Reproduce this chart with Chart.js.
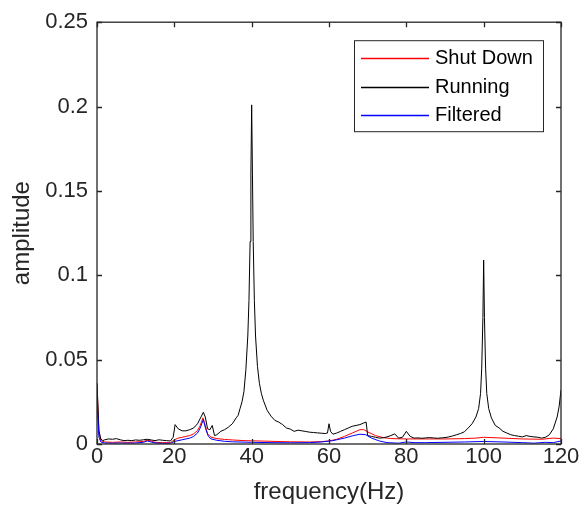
<!DOCTYPE html>
<html>
<head>
<meta charset="utf-8">
<script src="https://cdn.jsdelivr.net/npm/chart.js@4"></script>
<style>
  html, body { margin: 0; padding: 0; background: #fff; }
  #wrap { width: 580px; height: 515px; }
</style>
</head>
<body>
<div id="wrap"><canvas id="spectrum" width="580" height="515"></canvas></div>
<script>
// ---------- DATA
var xTicks = [0, 20, 40, 60, 80, 100, 120];
var yTicks = [0, 0.05, 0.1, 0.15, 0.2, 0.25];
var seriesNames = ['Shut Down', 'Running', 'Filtered'];
var seriesColors = ['#ff0000', '#000000', '#0000ff'];

var runningFreq = [0, 0.5, 1, 1.5, 2, 3, 4, 5, 6, 7, 8, 9, 10, 11, 12, 13, 14, 15, 16, 17, 18, 19,
  19.7, 20.2, 21, 22, 23, 24, 25, 26, 27, 27.5, 28, 28.6, 29.2, 29.8, 30.4, 31, 32, 33, 34, 35, 36, 36.5,
  37, 37.5, 38, 38.5, 39, 39.3, 39.6, 39.8, 40, 40.2, 40.4, 40.7, 41, 41.5, 42, 42.5, 43, 44, 45, 46, 47,
  48, 49, 50, 51, 52, 53, 54, 55, 56, 57, 58, 59, 59.6, 60, 60.4, 61, 62, 63, 64, 65, 66, 67, 68, 69,
  69.6, 70, 71, 72, 73, 74, 75, 76, 77, 78, 79, 80, 81, 82, 83, 84, 85, 86, 87, 88, 89, 90, 91, 92, 93,
  94, 95, 96, 97, 98, 98.7, 99.2, 99.5, 99.8, 100, 100.2, 100.5, 100.8, 101.3, 102, 103, 104, 105, 106,
  107, 108, 109, 110, 111, 112, 113, 114, 115, 116, 117, 118, 119, 119.5, 120];
var runningAmp = [0.036, 0.008, 0.003, 0.002, 0.0025, 0.003, 0.0028, 0.0032, 0.0025, 0.002, 0.0022, 0.002,
  0.0024, 0.0022, 0.0025, 0.0028, 0.0024, 0.002, 0.0025, 0.0022, 0.002, 0.0018,
  0.004, 0.0115, 0.009, 0.0078, 0.0078, 0.0085, 0.0095, 0.012, 0.0165, 0.0188, 0.016, 0.009, 0.0085, 0.011,
  0.005, 0.0055, 0.0075, 0.0085, 0.01, 0.012, 0.0155, 0.017,
  0.021, 0.025, 0.031, 0.044, 0.064, 0.085, 0.12, 0.16, 0.201, 0.16, 0.12, 0.085, 0.064, 0.046, 0.036, 0.03,
  0.026, 0.02, 0.0165, 0.014, 0.013,
  0.0115, 0.0095, 0.0088, 0.0075, 0.0082, 0.0078, 0.0074, 0.007, 0.0068, 0.0066, 0.0064, 0.0062, 0.0065,
  0.012, 0.0075, 0.0058, 0.0065, 0.0075, 0.0085, 0.0095, 0.0105, 0.011, 0.0115, 0.0125,
  0.013, 0.005, 0.0045, 0.004, 0.0035, 0.0037, 0.0042, 0.005, 0.006, 0.0035, 0.004, 0.0075, 0.0045, 0.0035,
  0.0036, 0.0034, 0.0036, 0.0038, 0.0036, 0.0034, 0.0036, 0.0038, 0.0042, 0.0048, 0.0055,
  0.0062, 0.0072, 0.0095, 0.012, 0.016, 0.021, 0.03, 0.045, 0.075, 0.109, 0.075, 0.045, 0.03, 0.021, 0.0155,
  0.011, 0.0095, 0.0075, 0.0065,
  0.0055, 0.005, 0.0046, 0.0042, 0.005, 0.0045, 0.0042, 0.004, 0.0035, 0.004, 0.0055, 0.009, 0.016, 0.022, 0.032];

var shutFreq = [0, 0.5, 1, 2, 4, 6, 8, 10, 12, 13, 14, 15, 17, 19, 20, 21, 22, 23, 24, 25, 26, 26.7, 27.4,
  28, 28.6, 29.5, 31, 33, 35, 38, 40, 45, 50, 55, 58, 60, 62, 64, 66, 68, 69, 70, 72, 74, 76, 80, 85, 90,
  95, 98, 100, 105, 110, 115, 118, 120];
var shutAmp = [0.036, 0.006, 0.002, 0.0012, 0.001, 0.0012, 0.001, 0.0012, 0.0015, 0.0022, 0.0018, 0.001,
  0.0008, 0.0008, 0.0025, 0.0035, 0.004, 0.0045, 0.005, 0.006, 0.008, 0.011, 0.0155,
  0.011, 0.006, 0.004, 0.0032, 0.0027, 0.0024, 0.002, 0.0019, 0.0016, 0.0013, 0.0012, 0.0014, 0.0018, 0.0028,
  0.0045, 0.0065, 0.0085, 0.0085, 0.0072, 0.005, 0.0038, 0.0032, 0.003, 0.003, 0.003,
  0.0032, 0.0035, 0.004, 0.0035, 0.003, 0.0028, 0.0035, 0.0032];

var filtFreq = [0, 0.5, 1, 2, 4, 6, 8, 10, 12, 13, 14, 15, 17, 19, 20, 22, 24, 25, 26, 26.7, 27.5, 28.1,
  28.8, 29.5, 31, 33, 35, 40, 45, 50, 55, 58, 61, 64, 66, 68, 69.5, 71, 73, 75, 78, 80, 82, 85, 90, 95,
  100, 105, 110, 113, 116, 118, 120];
var filtAmp = [0.026, 0.004, 0.0012, 0.0006, 0.0005, 0.0006, 0.0005, 0.0006, 0.001, 0.0018, 0.0012, 0.0006,
  0.0004, 0.0004, 0.0015, 0.0025, 0.0035, 0.0045, 0.0065, 0.0095, 0.0145, 0.009,
  0.0045, 0.003, 0.0022, 0.0016, 0.0013, 0.001, 0.0008, 0.0007, 0.0008, 0.0012, 0.002, 0.0035, 0.0048, 0.0058,
  0.0055, 0.0035, 0.0018, 0.0008, 0.0005, 0.0012, 0.0008, 0.0008, 0.001, 0.0012,
  0.0015, 0.0012, 0.0008, 0.0005, 0.001, 0.0008, 0.0018];

var AXIS_COLOR = '#262626';
var FONT = '"Liberation Sans", Arial, Helvetica, sans-serif';

function toPoints(xs, ys){
  return xs.map(function(x, i){ return {x: x, y: ys[i]}; });
}

// box + inward ticks, matlab style
var matlabAxes = {
  id: 'matlabAxes',
  afterDatasetsDraw: function(chart){
    var ctx = chart.ctx, a = chart.chartArea;
    var sx = chart.scales.x, sy = chart.scales.y;
    var tl = 5;
    ctx.save();
    ctx.strokeStyle = AXIS_COLOR;
    ctx.lineWidth = 1.3;
    ctx.beginPath();
    xTicks.forEach(function(v){
      var px = Math.round(sx.getPixelForValue(v)) + 0.5;
      ctx.moveTo(px, a.bottom); ctx.lineTo(px, a.bottom - tl);
      ctx.moveTo(px, a.top); ctx.lineTo(px, a.top + tl);
    });
    yTicks.forEach(function(v){
      var py = Math.round(sy.getPixelForValue(v)) + 0.5;
      ctx.moveTo(a.left, py); ctx.lineTo(a.left + tl, py);
      ctx.moveTo(a.right, py); ctx.lineTo(a.right - tl, py);
    });
    ctx.stroke();
    ctx.strokeRect(a.left, a.top, a.right - a.left, a.bottom - a.top);
    ctx.restore();
  }
};

// legend box in the top right corner of the axes
var cornerLegend = {
  id: 'cornerLegend',
  afterDraw: function(chart){
    var ctx = chart.ctx, a = chart.chartArea;
    var right = a.right - 18, top = a.top + 18;
    var w = 189, h = 91, left = right - w;
    ctx.save();
    ctx.fillStyle = '#fff';
    ctx.fillRect(left, top, w, h);
    ctx.strokeStyle = AXIS_COLOR;
    ctx.lineWidth = 1;
    ctx.strokeRect(left + 0.5, top + 0.5, w, h);
    ctx.font = '20px ' + FONT;
    ctx.textBaseline = 'middle';
    for (var i = 0; i < seriesNames.length; i++){
      var y = Math.round(top + 18 + i * 28.3) + 0.5;
      ctx.beginPath();
      ctx.strokeStyle = seriesColors[i];
      ctx.lineWidth = 1.6;
      ctx.moveTo(left + 7, y);
      ctx.lineTo(left + 75, y);
      ctx.stroke();
      ctx.fillStyle = '#000';
      ctx.fillText(seriesNames[i], left + 81, y);
    }
    ctx.restore();
  }
};

const ctx = document.getElementById('spectrum').getContext('2d');
var spectrumChart = new Chart(ctx, {
  type: 'line',
  data: {
    datasets: [
      { label: seriesNames[0], data: toPoints(shutFreq, shutAmp), borderColor: seriesColors[0], order: 3 },
      { label: seriesNames[1], data: toPoints(runningFreq, runningAmp), borderColor: seriesColors[1], order: 2 },
      { label: seriesNames[2], data: toPoints(filtFreq, filtAmp), borderColor: seriesColors[2], order: 1 }
    ]
  },
  options: {
    responsive: false,
    animation: false,
    devicePixelRatio: 1,
    layout: { padding: { top: 15, right: 19, bottom: 0, left: 0 } },
    elements: {
      line: { borderWidth: 1, tension: 0 },
      point: { radius: 0 }
    },
    plugins: { legend: { display: false }, tooltip: { enabled: false } },
    scales: {
      x: {
        type: 'linear', min: 0, max: 120,
        afterBuildTicks: function(s){ s.ticks = xTicks.map(function(v){ return {value: v}; }); },
        afterFit: function(s){ s.height = 71; },
        grid: { display: false, drawTicks: false },
        border: { display: false },
        ticks: { color: AXIS_COLOR, font: { family: FONT, size: 22 }, padding: 0, maxRotation: 0 },
        title: { display: true, text: 'frequency(Hz)', color: AXIS_COLOR,
                 font: { family: FONT, size: 24 }, padding: { top: 0, bottom: 8 } }
      },
      y: {
        min: 0, max: 0.25,
        afterBuildTicks: function(s){ s.ticks = yTicks.map(function(v){ return {value: v}; }); },
        afterFit: function(s){ s.width = 97; },
        grid: { display: false, drawTicks: false },
        border: { display: false },
        ticks: { color: AXIS_COLOR, font: { family: FONT, size: 22 }, padding: 9,
                 callback: function(v){ return String(+v.toFixed(2)); } },
        title: { display: true, text: 'amplitude', color: AXIS_COLOR,
                 font: { family: FONT, size: 24 }, padding: { top: 8, bottom: 0 } }
      }
    }
  },
  plugins: [matlabAxes, cornerLegend]
});
</script>
</body>
</html>
